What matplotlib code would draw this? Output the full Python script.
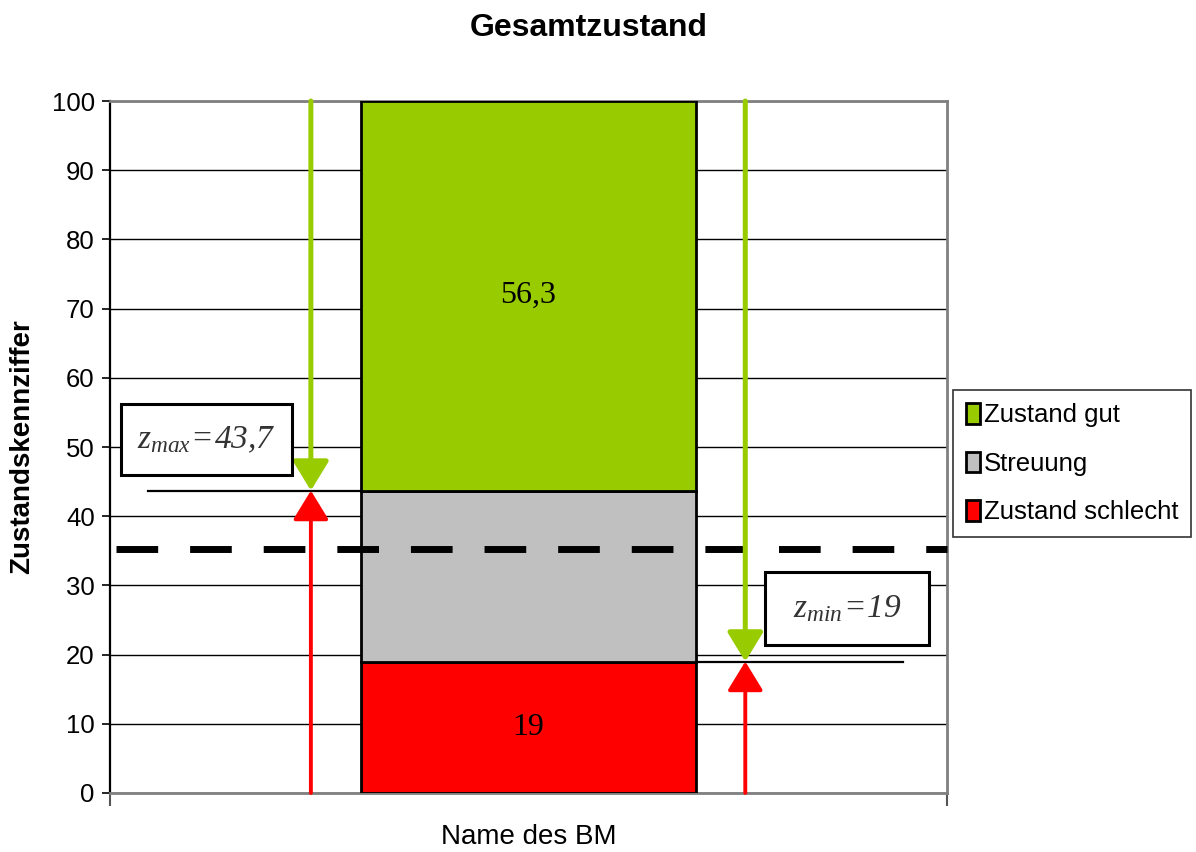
import matplotlib.pyplot as plt
from matplotlib.patches import Patch, Rectangle

# Werte fuer den Gesamtzustand
kategorie = ["Name des BM"]
schlecht = [19]
streuung = [24.7]
gut = [56.3]
z_min = 19
z_max = 43.7
grenzwert = 35.3
farben = {"gut": "#99CC00", "streuung": "#C0C0C0", "schlecht": "#FF0000"}

plt.rcParams["font.family"] = ["Liberation Sans", "DejaVu Sans"]
plt.rcParams["mathtext.fontset"] = "custom"
plt.rcParams["mathtext.rm"] = "Liberation Serif:italic"
plt.rcParams["mathtext.it"] = "Liberation Serif:italic"

fig = plt.figure(figsize=(11.96, 8.52), dpi=100)
ax = fig.add_axes([110 / 1196, 59 / 852, 837 / 1196, 692 / 852])

x = [0]
ax.bar(x, schlecht, width=0.4, color=farben["schlecht"], edgecolor="black", lw=2, zorder=3)
ax.bar(x, streuung, width=0.4, bottom=schlecht, color=farben["streuung"], edgecolor="black", lw=2, zorder=3)
unten_gut = [a + b for a, b in zip(schlecht, streuung)]
ax.bar(x, gut, width=0.4, bottom=unten_gut, color=farben["gut"], edgecolor="black", lw=2, zorder=3)

ax.text(0, schlecht[0] / 2, f"{schlecht[0]}", ha="center", va="center",
        fontsize=23, family="Liberation Serif", zorder=4)
ax.text(0, unten_gut[0] + gut[0] / 2, f"{gut[0]}".replace(".", ","), ha="center", va="center",
        fontsize=23, family="Liberation Serif", zorder=4)

# Grenzlinie (gestrichelt)
ax.plot([-0.493, 0.5], [grenzwert, grenzwert], color="black", lw=5,
        linestyle=(0, (6, 4.6)), dash_capstyle="butt", zorder=5, clip_on=False)

# Bezugslinien fuer z_max und z_min
ax.plot([-0.455, -0.2], [z_max, z_max], color="black", lw=1.6, zorder=4)
ax.plot([0.2, 0.447], [z_min, z_min], color="black", lw=1.6, zorder=4)


def pfeil(xp, y0, y1, farbe, lw):
    ax.annotate("", xy=(xp, y1), xytext=(xp, y0),
                arrowprops=dict(arrowstyle="-|>,head_width=0.55,head_length=0.9",
                                mutation_scale=20, color=farbe, lw=lw,
                                shrinkA=0, shrinkB=0),
                zorder=6)


pfeil(-0.26, 100, z_max, farben["gut"], 3.6)
pfeil(-0.26, 0, z_max, farben["schlecht"], 2.8)
pfeil(0.259, 100, z_min, farben["gut"], 3.6)
pfeil(0.259, 0, z_min, farben["schlecht"], 2.8)

# Beschriftungskaesten
for (x0, y0, x1, y1), txt in [((0.0131, 0.4595, 0.2174, 0.562), r"$z_{max}\!=\!43{,}7$"),
                              ((0.7826, 0.2139, 0.9781, 0.3194), r"$z_{min}\!=\!19$")]:
    ax.add_patch(Rectangle((x0, y0), x1 - x0, y1 - y0, transform=ax.transAxes,
                           facecolor="white", edgecolor="black", lw=2.2, zorder=7))
    ax.text((x0 + x1) / 2, (y0 + y1) / 2, txt, transform=ax.transAxes,
            ha="center", va="center", fontsize=24, color="#333333", zorder=8)

ax.set_xlim(-0.5, 0.5)
ax.set_ylim(0, 100)
ax.set_yticks(range(0, 101, 10))
ax.set_xticks([-0.5, 0.5])
ax.set_xticklabels(["", ""])
ax.tick_params(axis="y", labelsize=18.5, length=6, width=1.2, color="black", pad=5)
ax.tick_params(axis="x", length=9, width=1.5, color="#555555")
ax.yaxis.grid(True, color="black", lw=1)
ax.set_axisbelow(True)

for s in ["top", "right", "bottom"]:
    ax.spines[s].set_color("#808080")
    ax.spines[s].set_linewidth(2)
ax.spines["left"].set_color("black")
ax.spines["left"].set_linewidth(1.6)

ax.set_xlabel(kategorie[0], fontsize=20, labelpad=10)
ax.set_ylabel("Zustandskennziffer", fontsize=20, fontweight="bold", labelpad=12)
fig.suptitle("Gesamtzustand", fontsize=23, fontweight="bold", x=0.492, y=0.985)

handles = [Patch(facecolor=farben["gut"], edgecolor="black", lw=2, label="Zustand gut"),
           Patch(facecolor=farben["streuung"], edgecolor="black", lw=2, label="Streuung"),
           Patch(facecolor=farben["schlecht"], edgecolor="black", lw=2, label="Zustand schlecht")]
leg = fig.legend(handles=handles, loc="upper left", bbox_to_anchor=(0.797, 0.542),
                 borderaxespad=0, fontsize=18.5, frameon=True, fancybox=False,
                 handlelength=0.55, handleheight=0.85, handletextpad=0.15,
                 labelspacing=0.95, borderpad=0.5)
leg.get_frame().set_edgecolor("black")
leg.get_frame().set_linewidth(1.2)

fig.savefig("out.png", dpi=100)
